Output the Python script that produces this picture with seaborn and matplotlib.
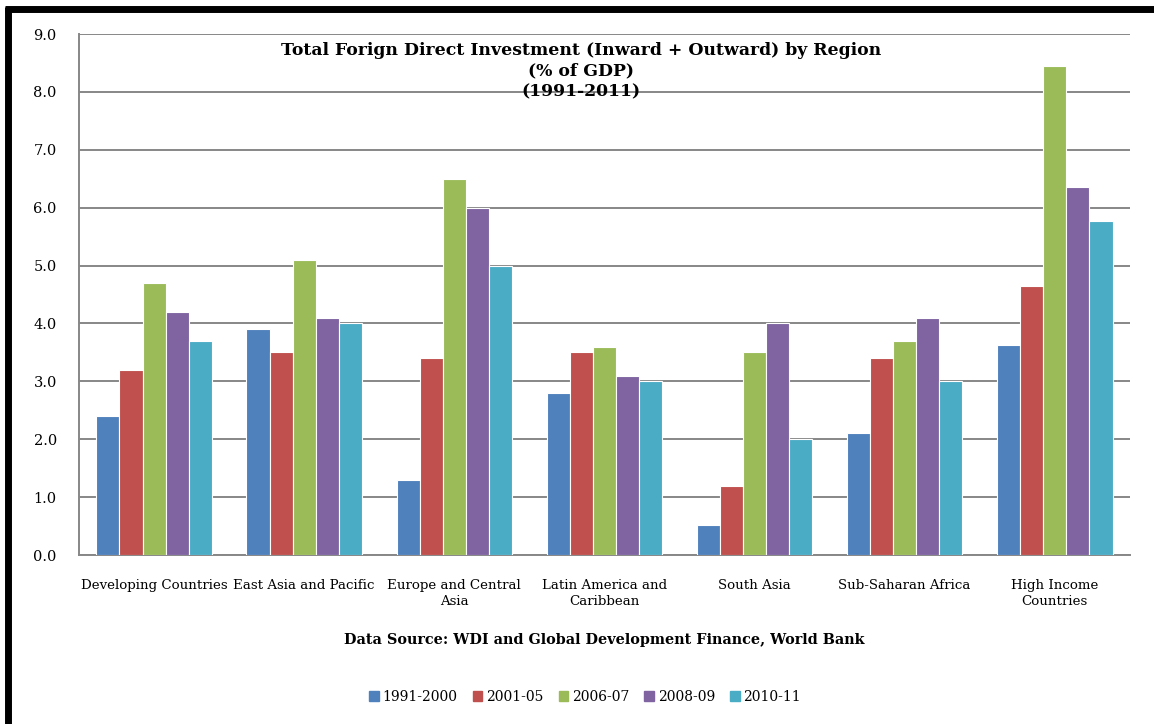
import numpy as np
import pandas as pd
import matplotlib
matplotlib.use("Agg")
import matplotlib.pyplot as plt
from matplotlib.lines import Line2D
import seaborn as sns

# ==========================
# data
# ==========================
regions = ["Developing Countries", "East Asia and Pacific", "Europe and Central\nAsia",
           "Latin America and\nCaribbean", "South Asia", "Sub-Saharan Africa",
           "High Income\nCountries"]
periods = ["1991-2000", "2001-05", "2006-07", "2008-09", "2010-11"]

v_1991_2000 = [2.4, 3.9, 1.3, 2.8, 0.52, 2.1, 3.62]
v_2001_05 = [3.2, 3.5, 3.4, 3.5, 1.2, 3.4, 4.64]
v_2006_07 = [4.7, 5.1, 6.5, 3.6, 3.5, 3.7, 8.45]
v_2008_09 = [4.2, 4.1, 6.0, 3.1, 4.0, 4.1, 6.35]
v_2010_11 = [3.7, 4.0, 5.0, 3.0, 2.0, 3.0, 5.77]

colors = ["#4F81BD", "#C0504D", "#9BBB59", "#8064A2", "#4BACC6"]

series = [v_1991_2000, v_2001_05, v_2006_07, v_2008_09, v_2010_11]
rows = []
for p, vals in zip(periods, series):
    for r, v in zip(regions, vals):
        rows.append({"region": r, "period": p, "value": v})
df = pd.DataFrame(rows)

# ==========================
# plot
# ==========================
sns.set_style("white")
plt.rcParams["font.family"] = ["DejaVu Serif"]
plt.rcParams["text.color"] = "black"
plt.rcParams["xtick.color"] = "black"
plt.rcParams["ytick.color"] = "black"

fig = plt.figure(figsize=(11.54, 7.24), dpi=100)
ax = fig.add_axes([0.0685, 0.2334, 0.9105, 0.7196])

sns.barplot(data=df, x="region", y="value", hue="period", order=regions,
            hue_order=periods, palette=colors, saturation=1, width=0.77, gap=0,
            edgecolor="white", linewidth=0.8, ax=ax, zorder=3)

grid_c = "#878787"
ax.set_ylim(0, 9)
ax.set_xlim(-0.5, 6.5)
ax.set_yticks(np.arange(0, 9.1, 1.0))
ax.set_yticklabels([f"{t:.1f}" for t in np.arange(0, 9.1, 1.0)], fontsize=10.5)
ax.yaxis.grid(True, color=grid_c, linewidth=1.4, zorder=0)
ax.set_axisbelow(True)
ax.tick_params(axis="y", length=5, color=grid_c, width=1.4, pad=11)
ax.set_xticks(np.arange(-0.5, 7, 1.0), minor=True)
ax.tick_params(axis="x", which="minor", length=5, color=grid_c, width=1.4)
ax.set_xticks(range(len(regions)))
ax.set_xticklabels(regions, fontsize=9.6, linespacing=1.35)
ax.tick_params(axis="x", which="major", length=0, pad=17)
for s in ["top", "right"]:
    ax.spines[s].set_visible(False)
for s in ["left", "bottom"]:
    ax.spines[s].set_color(grid_c)
    ax.spines[s].set_linewidth(1.4)
ax.set_xlabel("")
ax.set_ylabel("")

ax.text(0.478, 0.985, "Total Forign Direct Investment (Inward + Outward) by Region\n(% of GDP)\n(1991-2011)",
        transform=ax.transAxes, ha="center", va="top", fontsize=12.4,
        fontweight="bold", linespacing=1.3)

fig.text(0.524, 1 - 640 / 724, "Data Source: WDI and Global Development Finance, World Bank",
         ha="center", va="center", fontsize=10.4, fontweight="bold")

ax.get_legend().remove()
handles = [plt.Rectangle((0, 0), 1, 1, color=c) for c in colors]
fig.legend(handles, periods, loc="center", bbox_to_anchor=(0.507, 1 - 697 / 724),
           ncol=5, frameon=False, fontsize=10, handlelength=0.7, handleheight=0.7,
           handletextpad=0.25, columnspacing=1.1)

# frame (left and top black edges)
fig.add_artist(Line2D([0.0072, 0.0072], [0, 0.99], transform=fig.transFigure,
                      color="black", linewidth=5, solid_capstyle="butt"))
fig.add_artist(Line2D([0.004, 1.0], [0.988, 0.988], transform=fig.transFigure,
                      color="black", linewidth=5, solid_capstyle="butt"))

fig.savefig("out.png", dpi=100)
